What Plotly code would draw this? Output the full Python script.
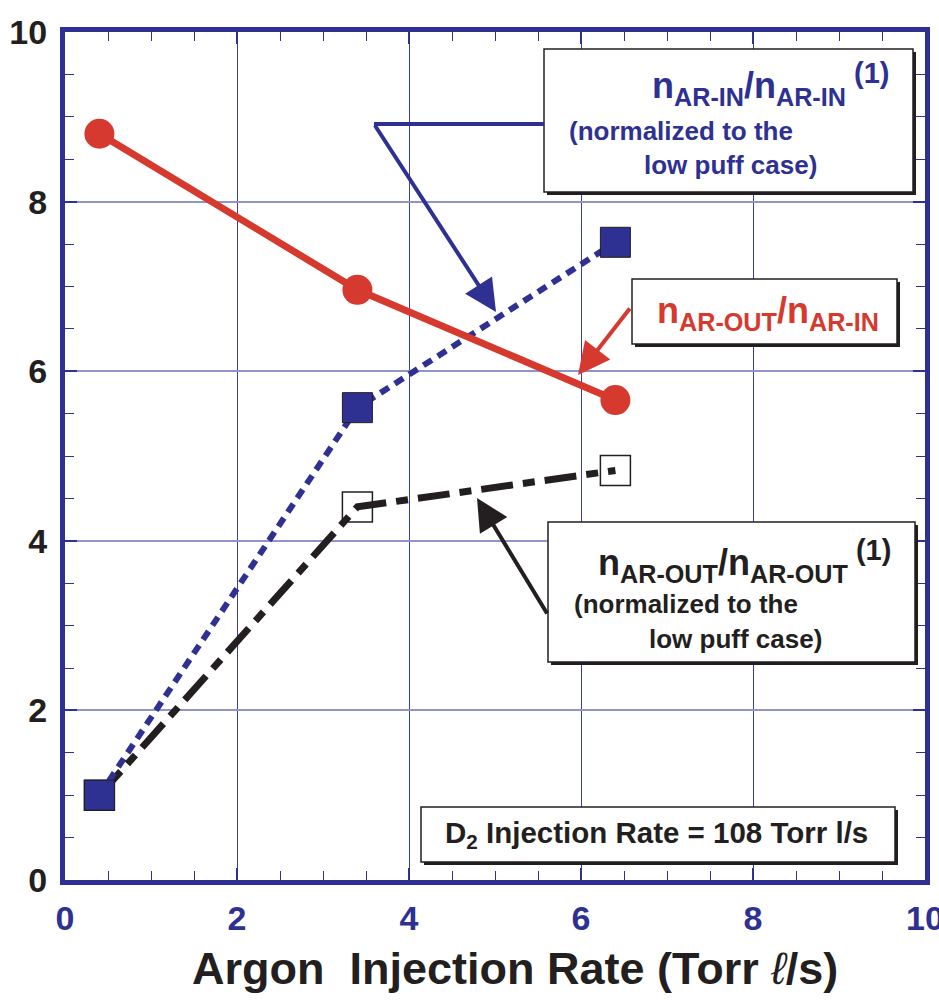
import plotly.graph_objects as go

# Argon injection rate (Torr l/s)
argon_rate = [0.4, 3.4, 6.4]

# Series values
ratio_out_in = [8.80, 6.96, 5.66]          # n_AR-OUT / n_AR-IN
norm_in = [1.00, 5.57, 7.52]               # n_AR-IN / n_AR-IN(1)
norm_out = [1.00, 4.40, 4.83]              # n_AR-OUT / n_AR-OUT(1)

x_ticks = [0, 2, 4, 6, 8, 10]
y_ticks = [0, 2, 4, 6, 8, 10]

BLUE = "#2E3192"
RED = "#D6392E"
BLACK = "#231F20"
SANS = "Liberation Sans, Arial, sans-serif"

FIG_W, FIG_H = 939, 1002
M_L, M_R, M_T, M_B = 65, 14, 32, 122
PW, PH = FIG_W - M_L - M_R, FIG_H - M_T - M_B


def px(xp):
    """Page pixel x -> paper fraction."""
    return (xp - M_L) / PW


def py(yp):
    """Page pixel y -> paper fraction."""
    return (M_T + PH - yp) / PH


fig = go.Figure()

fig.add_trace(go.Scatter(
    x=argon_rate, y=norm_out, mode="lines+markers",
    line=dict(color=BLACK, width=7, dash="32px,10px,12px,10px"),
    marker=dict(symbol="square-open", size=30, color=BLACK, line=dict(width=1.5)),
    showlegend=False,
))
fig.add_trace(go.Scatter(
    x=argon_rate, y=norm_in, mode="lines+markers",
    line=dict(color=BLUE, width=6, dash="10px,7px"),
    marker=dict(symbol="square", size=30, color=BLUE, line=dict(color=BLACK, width=1)),
    showlegend=False,
))
fig.add_trace(go.Scatter(
    x=argon_rate, y=ratio_out_in, mode="lines+markers",
    line=dict(color=RED, width=7),
    marker=dict(symbol="circle", size=30, color=RED),
    showlegend=False,
))

axis_common = dict(
    range=[0, 10], dtick=2, tick0=0, automargin=False,
    showline=True, linewidth=5, linecolor=BLUE, mirror="allticks",
    ticks="inside", ticklen=12, tickwidth=1.5, tickcolor=BLUE,
    minor=dict(dtick=0.5, ticks="inside", ticklen=9, tickwidth=1.2,
               tickcolor=BLUE, showgrid=False),
    showgrid=True, zeroline=False, ticklabeloverflow="allow",
)

fig.update_xaxes(
    **axis_common, tickvals=x_ticks,
    gridcolor="#3A3EA2", gridwidth=1.2,
    tickfont=dict(family=SANS, size=34, color=BLUE, weight="bold"),
    ticklabelstandoff=4,
)
fig.update_yaxes(
    **axis_common, tickvals=y_ticks,
    gridcolor="#9194C9", gridwidth=1.5,
    tickfont=dict(family=SANS, size=34, color=BLACK, weight="bold"),
    ticklabelstandoff=6,
)

shapes = []
annotations = []


def boxed(x0, y0, x1, y1, shadow=3):
    shapes.append(dict(type="rect", xref="paper", yref="paper",
                       x0=px(x0 + shadow), x1=px(x1 + shadow),
                       y0=py(y0 + shadow), y1=py(y1 + shadow),
                       fillcolor=BLACK, line=dict(width=0), layer="above"))
    shapes.append(dict(type="rect", xref="paper", yref="paper",
                       x0=px(x0), x1=px(x1), y0=py(y0), y1=py(y1),
                       fillcolor="white", line=dict(color=BLACK, width=1.5),
                       layer="above"))


def label(x, y, text, size, color):
    annotations.append(dict(
        xref="paper", yref="paper", x=px(x), y=py(y), text=text,
        showarrow=False, xanchor="left", yanchor="middle",
        font=dict(family=SANS, size=size, color=color, weight="bold"),
    ))


def arrow(tail, tip, color):
    annotations.append(dict(
        xref="paper", yref="paper", x=px(tip[0]), y=py(tip[1]), text="",
        showarrow=True, axref="pixel", ayref="pixel",
        ax=tail[0] - tip[0], ay=tail[1] - tip[1],
        arrowhead=2, arrowsize=1.6, arrowwidth=4, arrowcolor=color,
    ))


SUP1 = "<sup><span style=\"font-size:29px\"> (1)</span></sup>"

# n_AR-IN normalized box
boxed(544, 49, 913, 192)
label(650, 84, "n<sub>AR-IN</sub>/n<sub>AR-IN</sub>" + SUP1, 36, BLUE)
label(567, 131, "(normalized to the", 26, BLUE)
label(642, 165, "low puff case)", 26, BLUE)
shapes.append(dict(type="line", xref="paper", yref="paper",
                   x0=px(374), x1=px(544), y0=py(124), y1=py(124),
                   line=dict(color=BLUE, width=4), layer="above"))
arrow((374, 124), (496, 312), BLUE)

# n_AR-OUT / n_AR-IN box
boxed(632, 279, 897, 344)
label(655, 313, "n<sub>AR-OUT</sub>/n<sub>AR-IN</sub>", 36, RED)
arrow((631, 307), (578, 375), RED)

# n_AR-OUT normalized box
boxed(548, 522, 915, 662)
label(596, 561, "n<sub>AR-OUT</sub>/n<sub>AR-OUT</sub>" + SUP1, 36, BLACK)
label(572, 604, "(normalized to the", 26, BLACK)
label(647, 639, "low puff case)", 26, BLACK)
arrow((548, 615), (477, 498), BLACK)

# D2 injection rate box
boxed(421, 807, 895, 862)
label(443, 834, "D<sub>2</sub> Injection Rate = 108 Torr l/s", 29.5, BLACK)

# x-axis title
annotations.append(dict(
    xref="paper", yref="paper", x=px(515), y=py(968),
    text="Argon\u00a0\u00a0Injection Rate (Torr <span style=\"font-weight:normal\"><i>\u2113</i></span>/s)",
    showarrow=False, xanchor="center", yanchor="middle",
    font=dict(family=SANS, size=45, color=BLACK, weight="bold"),
))

fig.update_layout(
    width=FIG_W, height=FIG_H,
    margin=dict(l=M_L, r=M_R, t=M_T, b=M_B),
    paper_bgcolor="white", plot_bgcolor="white",
    shapes=shapes, annotations=annotations,
)

fig.write_html("out.html")
